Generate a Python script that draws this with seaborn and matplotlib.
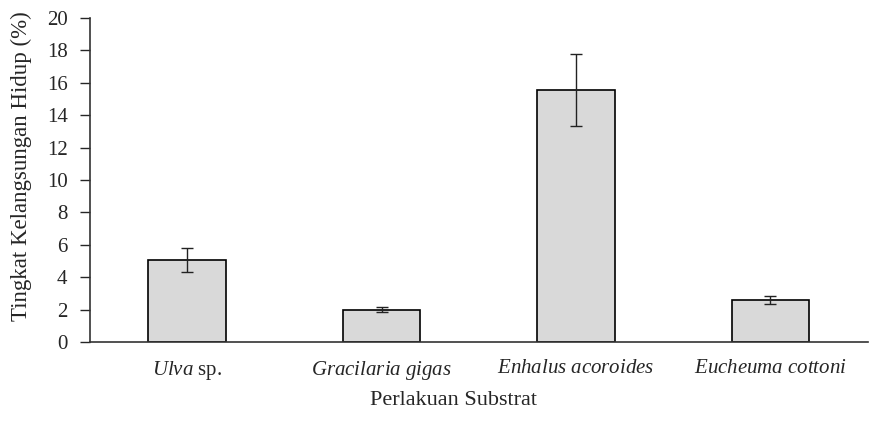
import matplotlib
matplotlib.use("Agg")
import matplotlib.pyplot as plt
import seaborn as sns
import pandas as pd

substrat = ["Ulva sp.", "Gracilaria gigas", "Enhalus acoroides", "Eucheuma cottoni"]
tick_labels = [r"$\mathit{Ulva}$ sp.", r"$\mathit{Gracilaria\ gigas}$",
               r"$\mathit{Enhalus\ acoroides}$", r"$\mathit{Eucheuma\ cottoni}$"]
survival = [5.06, 1.98, 15.55, 2.59]
sd = [0.74, 0.15, 2.23, 0.22]

sns.set_style("white")
plt.rcParams["font.family"] = ["Liberation Serif", "DejaVu Serif"]
plt.rcParams["mathtext.fontset"] = "custom"
plt.rcParams["mathtext.rm"] = "Liberation Serif"
plt.rcParams["mathtext.it"] = "Liberation Serif:italic"

df = pd.DataFrame({"Substrat": substrat, "Hidup": survival})

fig = plt.figure(figsize=(8.72, 4.34), dpi=100)
ax = fig.add_axes([0.103, 0.212, 0.892, 0.7465])
sns.barplot(data=df, x="Substrat", y="Hidup", color="#d9d9d9", edgecolor="black",
            linewidth=1.2, width=0.4, saturation=1, errorbar=None, ax=ax)
ax.errorbar(range(len(substrat)), survival, yerr=sd, fmt="none", ecolor="#222222",
            elinewidth=1, capsize=4, capthick=1)

ax.set_ylim(0, 20)
ax.set_xlim(-0.5, 3.5)
ax.set_yticks(range(0, 21, 2))
ax.set_xticks(range(len(substrat)))
ax.set_xticklabels(tick_labels, fontsize=15)
ax.tick_params(axis="y", labelsize=15, left=True, length=7, width=1, direction="out", pad=9)
ax.tick_params(axis="x", bottom=False, pad=9)
ax.set_ylabel("Tingkat Kelangsungan Hidup (%)", fontsize=16.5)
ax.set_xlabel("Perlakuan Substrat", fontsize=16)
ax.yaxis.set_label_coords(-0.074, 0.543)
ax.xaxis.set_label_coords(0.467, -0.15)
sns.despine(ax=ax)
for s in ["left", "bottom"]:
    ax.spines[s].set_color("#333333")
    ax.spines[s].set_linewidth(1.2)

fig.savefig("out.png", dpi=100)
